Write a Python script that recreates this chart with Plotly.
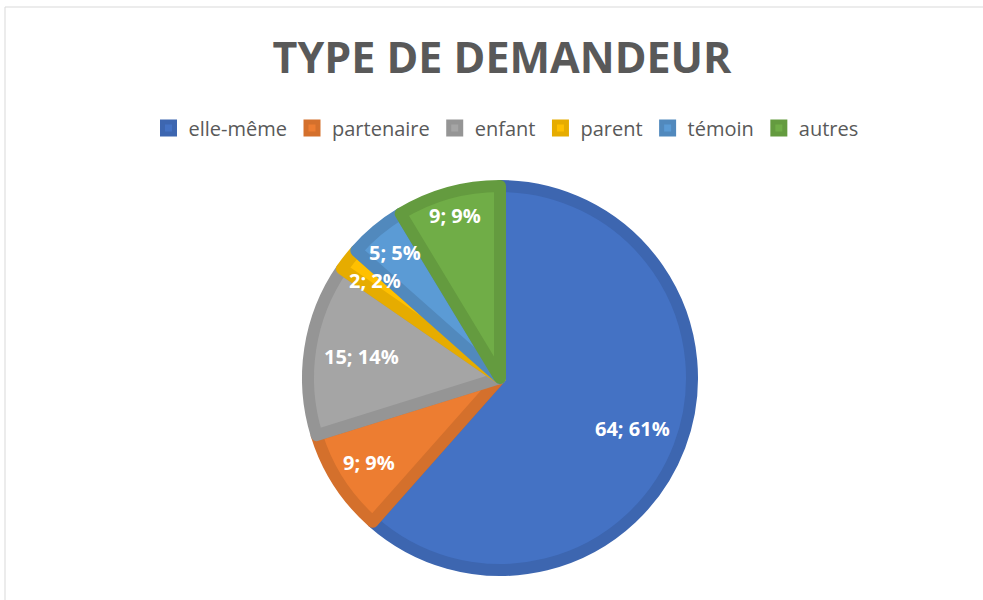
import math
import plotly.graph_objects as go

categories = ["elle-même", "partenaire", "enfant", "parent", "témoin", "autres"]
values = [64, 9, 15, 2, 5, 9]
pct_labels = ["61%", "9%", "14%", "2%", "5%", "9%"]
fill_colors = ["#4472C4", "#ED7D31", "#A5A5A5", "#FFC000", "#5B9BD5", "#70AD47"]
edge_colors = ["#3D66B0", "#D4702C", "#959595", "#E6AC00", "#5189BD", "#649B3F"]
label_radius = [0.717, 0.786, 0.709, 0.80, 0.825, 0.853]  # label distance, fraction of radius

W, H = 983, 600
cx, cy, R_out = 500, 378, 198
LW = 12
R = R_out - LW / 2

fig = go.Figure(go.Pie(
    labels=categories,
    values=values,
    textinfo="none",
    marker=dict(colors=fill_colors, line=dict(color=edge_colors, width=LW)),
    sort=False,
    direction="clockwise",
    rotation=0,
    hoverinfo="label+value+percent",
    domain=dict(x=[(cx - R) / W, (cx + R) / W], y=[1 - (cy + R) / H, 1 - (cy - R) / H]),
))

# data labels placed along each slice's mid-angle
total = sum(values)
annotations = []
cum = 0
for v, p, f in zip(values, pct_labels, label_radius):
    mid = (cum + v / 2) / total * 2 * math.pi
    cum += v
    px = cx + math.sin(mid) * f * R_out
    py = cy - math.cos(mid) * f * R_out
    annotations.append(dict(
        x=px / W, y=1 - py / H, xref="paper", yref="paper",
        text=f"<b>{v}; {p}</b>", showarrow=False, xanchor="center", yanchor="middle",
        font=dict(family="Open Sans", size=20, color="white"),
    ))

fig.update_layout(
    width=W, height=H,
    margin=dict(l=0, r=0, t=0, b=0),
    paper_bgcolor="white",
    plot_bgcolor="white",
    title=dict(text="<b>TYPE DE DEMANDEUR</b>", x=502 / W, xanchor="center", y=1 - 58 / H, yanchor="middle",
               font=dict(family="Open Sans", size=43, color="#595959")),
    legend=dict(orientation="h", x=506 / W, xanchor="center", y=1 - 128 / H, yanchor="middle",
                font=dict(family="Open Sans", size=20, color="#595959"), traceorder="normal",
                itemwidth=30),
    annotations=annotations,
    shapes=[dict(type="path", xref="paper", yref="paper",
                 path=f"M {5/W} -0.05 L {5/W} {1-7/H} L 1.05 {1-7/H}",
                 line=dict(color="#D9D9D9", width=1))],
)

fig.write_html("out.html", config={"displayModeBar": False},
               post_script="document.body.style.margin='0';")
